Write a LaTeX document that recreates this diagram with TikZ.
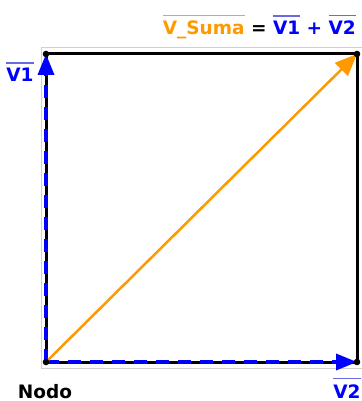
\documentclass[tikz,border=0pt]{standalone}
\usepackage{fontspec}
\setmainfont{DejaVu Sans}
\usetikzlibrary{arrows.meta}
\definecolor{vblue}{RGB}{0,0,255}
\definecolor{vor}{RGB}{255,153,0}
\definecolor{oltan}{RGB}{210,168,112}
\definecolor{olb}{RGB}{106,106,224}
\newcommand\olc[3]{\leavevmode\setbox0\hbox{\color{#2}#3}\rlap{\color{#1}\rule[\dimexpr\ht0+5pt\relax]{\wd0}{1.1pt}}\box0\relax}
\tikzset{
  lbl/.style={inner sep=0pt, text=black, font=\fontsize{18.5}{20}\selectfont\bfseries},
  side/.style={line width=3pt, black},
  vecdash/.style={vblue, line width=3.5pt, dash pattern=on 13pt off 9pt, -{Triangle[length=21pt,width=16pt]}},
  vecsum/.style={vor, line width=2.5pt, -{Triangle[length=22pt,width=18pt]}},
  dot/.style={fill=black}
}
\begin{document}
\begin{tikzpicture}[x=1pt,y=-1pt]
\useasboundingbox (0,0) rectangle (361,401);
\draw[black!18, line width=0.8pt] (41,47) rectangle (370,368);
\coordinate (O) at (46,362);
\coordinate (A) at (46,54);
\coordinate (B) at (357,362);
\coordinate (C) at (357,54);
\draw[side] (O) -- (A) -- (C) -- (B) -- cycle;
\draw[vecdash] (O) -- (A);
\draw[vecdash] (O) -- (B);
\draw[vecsum] (O) -- (C);
\foreach \p in {O,A,B,C} \fill[dot] (\p) circle (3.3pt);
\node[lbl, anchor=base] (nodo) at (45,398) {Nodo};
\node[lbl, anchor=base] (v2) at (347,398) {\olc{olb}{vblue}{V2}};
\node[lbl, anchor=base] (v1) at (20,82) {\olc{olb}{vblue}{V1}};
\node[lbl, anchor=base east] (title) at (356,35) {\olc{oltan}{vor}{V\_Suma} \textcolor{black}{=} \olc{olb}{vblue}{V1} \textcolor{vblue}{+} \olc{olb}{vblue}{V2}};
\end{tikzpicture}
\end{document}
